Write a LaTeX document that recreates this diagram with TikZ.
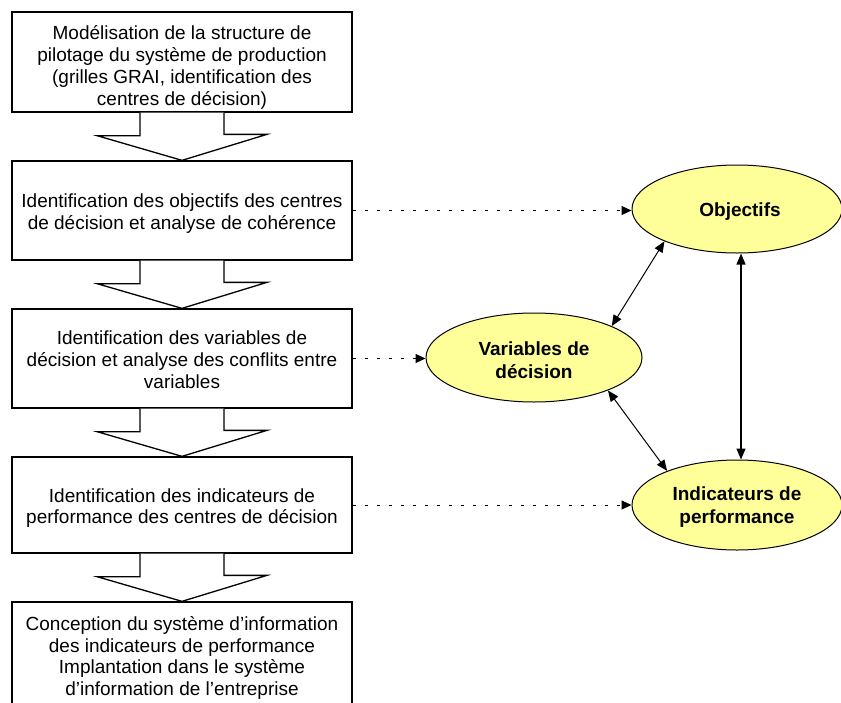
\documentclass[tikz,border=0pt]{standalone}
\usepackage{fontspec}
\setmainfont{Liberation Sans}
\usetikzlibrary{calc,shapes.geometric,arrows.meta}
\definecolor{ellfill}{RGB}{255,255,153}
\tikzset{
  stepbox/.style={draw=black, line width=1.3pt, minimum width=340pt, inner sep=0pt},
  steptext/.style={inner sep=0pt, align=center, font=\fontsize{19}{21.8}\selectfont},
  goal/.style={ellipse, draw=black, line width=1pt, fill=ellfill, inner sep=0pt},
  goaltext/.style={inner sep=0pt, align=center, font=\fontsize{19}{23}\selectfont\bfseries},
  bigarrow/.style={draw=black, line width=1.3pt, fill=white, line join=miter},
  dotarrow/.style={draw=black, line width=1pt, dash pattern=on 3pt off 9pt,
    -{Triangle[length=10pt,width=9pt]}},
  dblarrow/.style={draw=black, line width=1pt,
    {Triangle[length=11pt,width=9pt]}-{Triangle[length=11pt,width=9pt]}},
}
\begin{document}
\begin{tikzpicture}[x=1pt,y=-1pt]
\useasboundingbox (0,0) rectangle (841,702);
% step boxes
\node[stepbox, minimum height=100pt] (b1) at (182,62) {};
\node[stepbox, minimum height=99pt] (b2) at (182,210.5) {};
\node[stepbox, minimum height=99pt] (b3) at (182,358.5) {};
\node[stepbox, minimum height=96pt] (b4) at (182,505) {};
\node[stepbox, minimum height=112pt] (b5) at (182,658) {};
\node[steptext] (t1) at ([yshift=-5.5pt]b1.center)
  {Modélisation de la structure de\\pilotage du système de production\\(grilles GRAI, identification des\\centres de décision)};
\node[steptext] (t2) at ([yshift=-3pt]b2.center)
  {Identification des objectifs des centres\\de décision et analyse de cohérence};
\node[steptext] (t3) at ([yshift=-1.5pt]b3.center)
  {Identification des variables de\\décision et analyse des conflits entre\\variables};
\node[steptext] (t4) at ([yshift=-3pt]b4.center)
  {Identification des indicateurs de\\performance des centres de décision};
\node[steptext] (t5) at (b5.center)
  {Conception du système d’information\\des indicateurs de performance\\Implantation dans le système\\d’information de l’entreprise};
% block arrows
\foreach \a/\b in {b1/b2,b2/b3,b3/b4,b4/b5}{
  \draw[bigarrow] ($(\a.south)+(-42,0)$) -- ++(0,23) -- ++(-43,0) -- (\b.north)
    -- ($(\b.north)+(85,-26)$) -- ++(-43,0) -- ($(\a.south)+(42,0)$);
}
% ellipses
\node[goal, minimum width=210pt, minimum height=88pt] (obj) at (737,209) {};
\node[goal, minimum width=216pt, minimum height=89pt] (var) at (534,357.5) {};
\node[goal, minimum width=210pt, minimum height=90pt] (ind) at (737,505) {};
\node[goaltext] (objt) at ([xshift=3pt,yshift=-3pt]obj.center) {Objectifs};
\node[goaltext] (vart) at ([yshift=-2.5pt]var.center) {Variables de\\décision};
\node[goaltext] (indt) at ([yshift=-2.5pt]ind.center) {Indicateurs de\\performance};
% dotted links
\draw[dotarrow] (b2.east) -- (b2.east -| obj.west);
\draw[dotarrow] (b3.east) -- (b3.east -| var.west);
\draw[dotarrow] (b4.east) -- (b4.east -| ind.west);
% relations
\draw[dblarrow] (obj.204.4) -- (var.22.6);
\draw[dblarrow] (var.-24.2) -- (ind.154.7);
\draw[dblarrow, line width=1.3pt] ([xshift=4pt]obj.south) -- ([xshift=4pt]ind.north);
\end{tikzpicture}
\end{document}
